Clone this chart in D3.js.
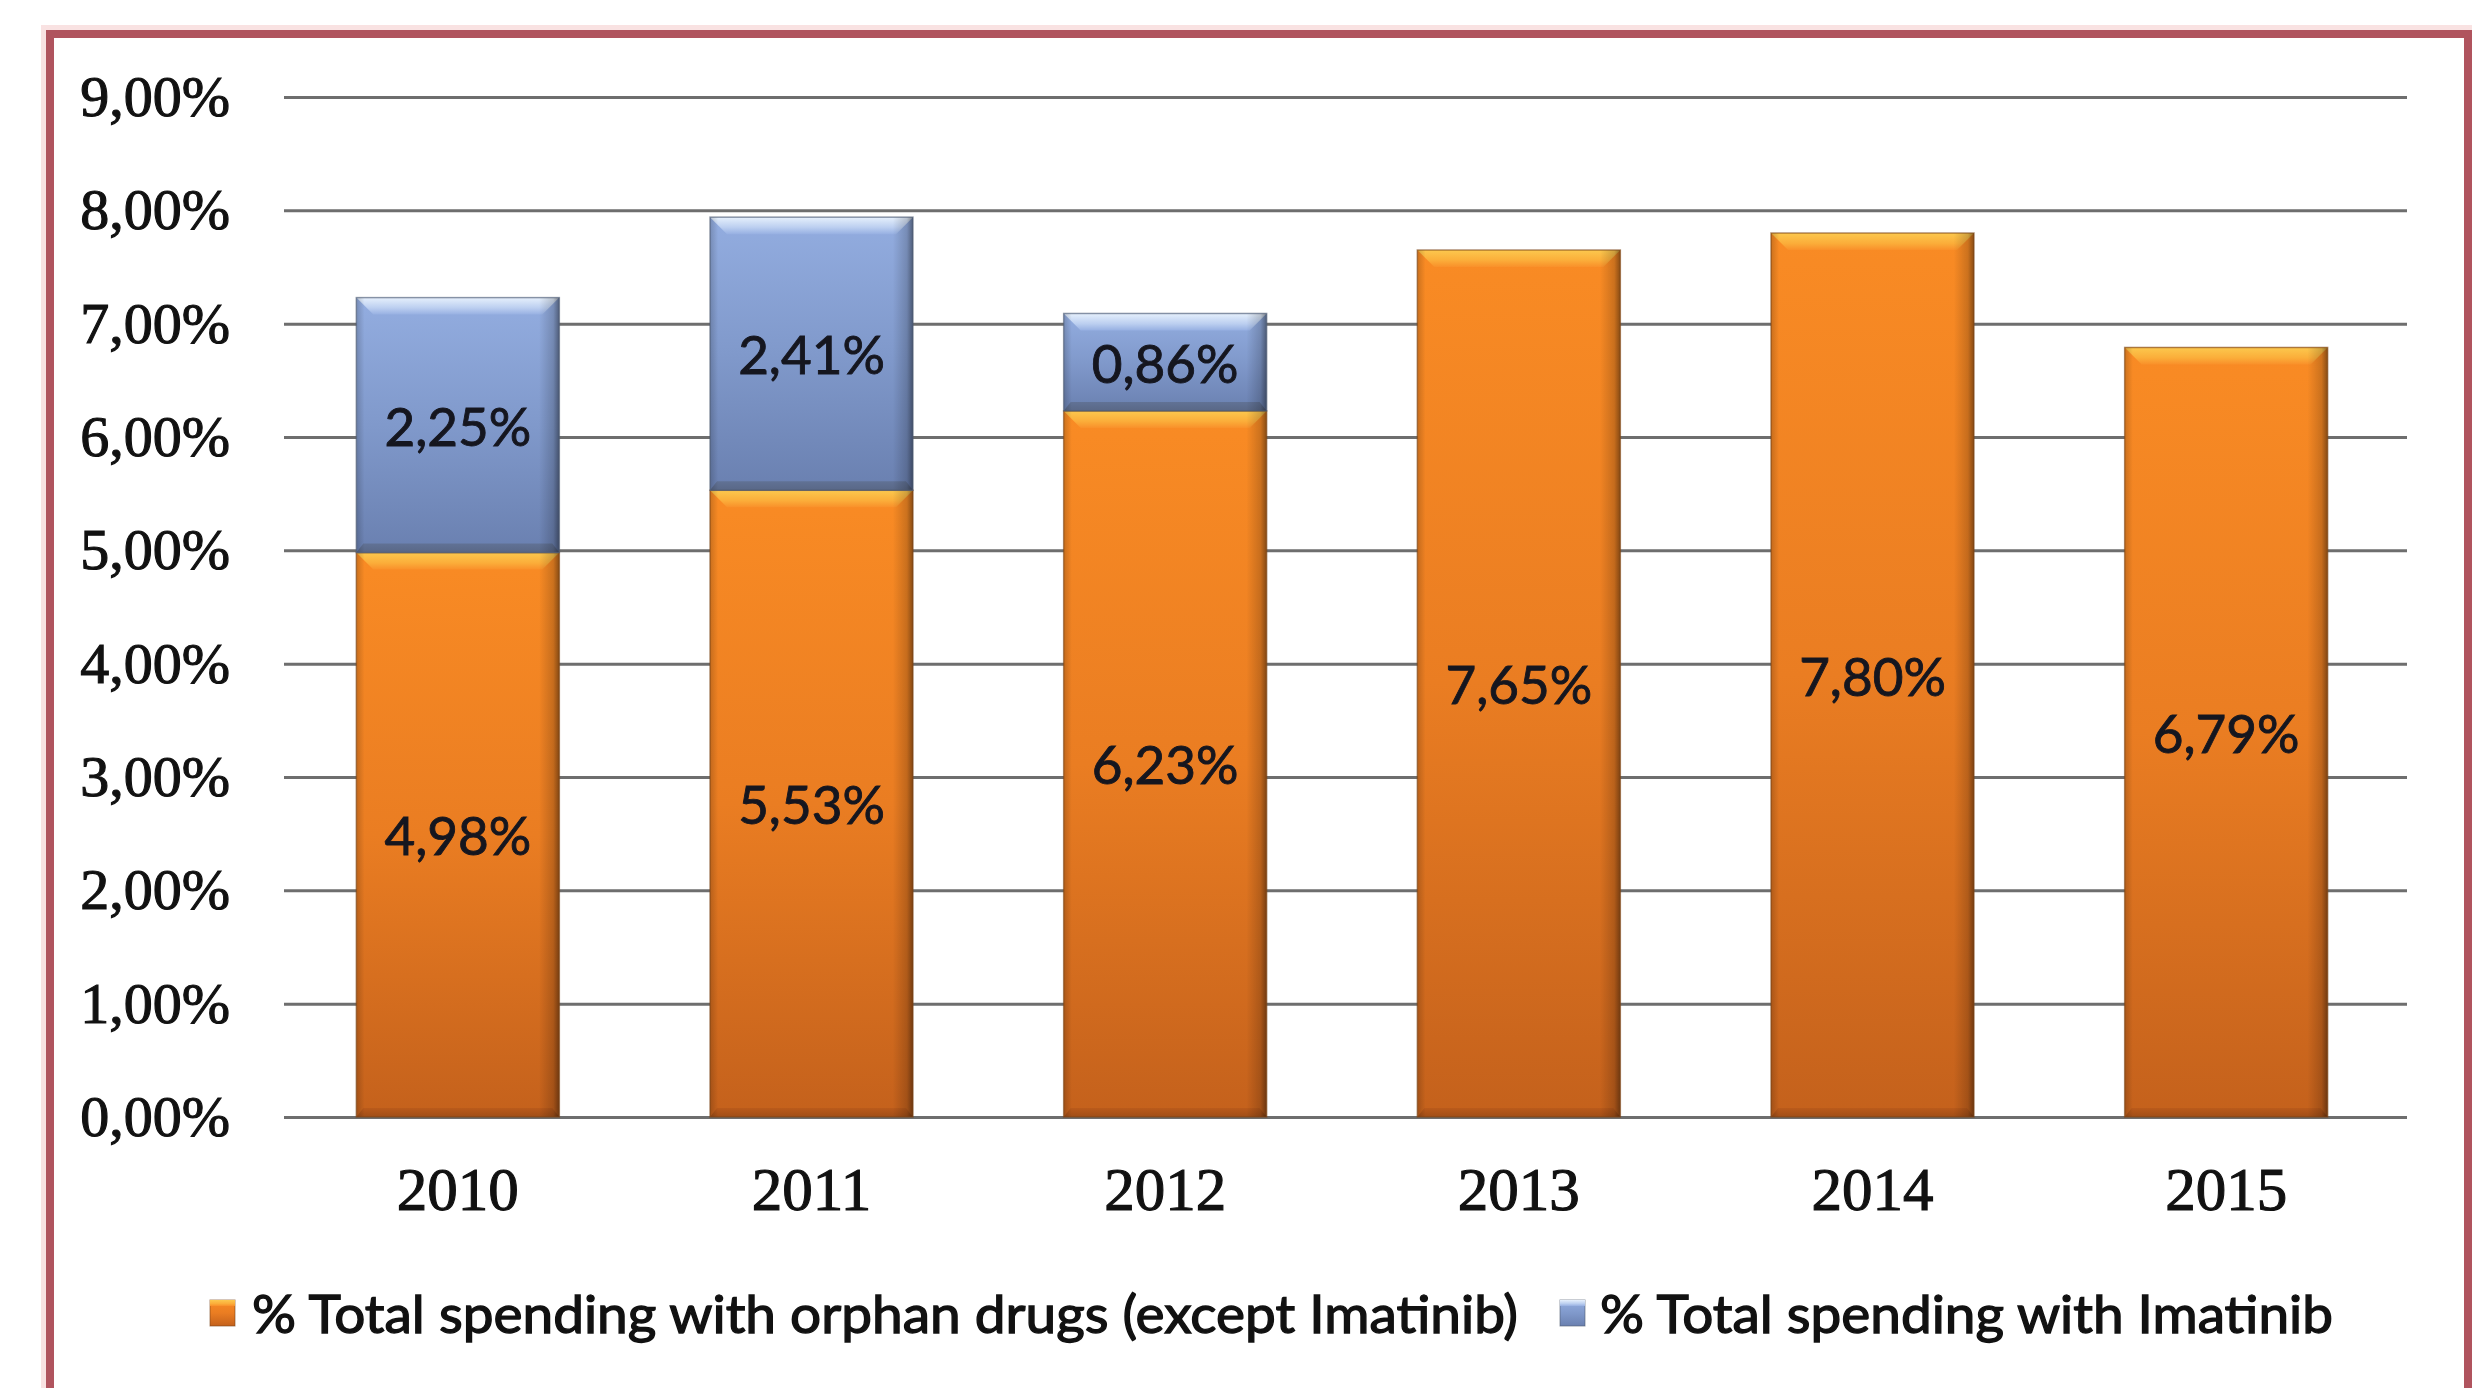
<!DOCTYPE html>
<html>
<head>
<meta charset="utf-8">
<script src="https://cdn.jsdelivr.net/npm/d3@7"></script>
<style>
  html, body { margin: 0; padding: 0; background: #ffffff; }
  svg { display: block; }
</style>
</head>
<body>
<svg id="chart" width="2472" height="1388"></svg>
<script>
// ---------- data ----------
const years = ["2010", "2011", "2012", "2013", "2014", "2015"];
const orphanExceptImatinib = [4.98, 5.53, 6.23, 7.65, 7.80, 6.79];
const imatinib = [2.25, 2.41, 0.86, 0, 0, 0];
const yTicks = [0, 1, 2, 3, 4, 5, 6, 7, 8, 9];
const seriesNames = ["% Total spending with orphan drugs (except Imatinib)", "% Total spending with Imatinib"];

// ---------- setup ----------
const W = 2472, H = 1388;
const svg = d3.select("#chart");
const fmt = v => d3.format(".2f")(v).replace(".", ",") + "%";

// frame
svg.append("rect").attr("x", 50).attr("y", 34).attr("width", 2418).attr("height", 1500)
  .attr("fill", "none").attr("stroke", "#f6d6d6").attr("stroke-width", 18).attr("opacity", 0.7);
svg.append("rect").attr("x", 50).attr("y", 34).attr("width", 2418).attr("height", 1500)
  .attr("fill", "#ffffff").attr("stroke", "#b0545e").attr("stroke-width", 8);

const gridX0 = 284, gridX1 = 2407;
const y = d3.scaleLinear().domain([0, 9]).range([1117, 97]);
const x = d3.scaleBand().domain(years).range([281, 2403]).paddingInner(0.426).paddingOuter(0.213);

// gradients
const defs = svg.append("defs");
function vGrad(id, stops) {
  const g = defs.append("linearGradient").attr("id", id).attr("x1", 0).attr("y1", 0).attr("x2", 0).attr("y2", 1);
  stops.forEach(s => g.append("stop").attr("offset", s[0]).attr("stop-color", s[1]));
}
function hGrad(id, stops) {
  const g = defs.append("linearGradient").attr("id", id).attr("x1", 0).attr("y1", 0).attr("x2", 1).attr("y2", 0);
  stops.forEach(s => g.append("stop").attr("offset", s[0]).attr("stop-color", s[1][0]).attr("stop-opacity", s[1][1]));
}
vGrad("orangeBody", [[0, "#f98b24"], [0.5, "#ea7d22"], [1, "#c4611c"]]);
vGrad("blueBody", [[0, "#93ade0"], [0.5, "#8099cb"], [1, "#6a80b0"]]);
vGrad("orangeBevel", [[0, "#fcc84e"], [0.6, "#fbae3a"], [1, "#f9902a"]]);
vGrad("blueBevel", [[0, "#e6f0fc"], [0.6, "#bccff0"], [1, "#97b0e2"]]);
hGrad("sideShade", [[0, ["#000", 0.18]], [0.04, ["#000", 0.0]], [0.9, ["#000", 0.0]], [0.97, ["#000", 0.18]], [1, ["#000", 0.45]]]);
vGrad("orangeBottom", [[0, "#b8591a"], [1, "#9a4a16"]]);
vGrad("blueBottom", [[0, "#5f6f90"], [1, "#56637f"]]);

const thick = sel => sel.attr("stroke", "#111").attr("stroke-width", 1.1).attr("paint-order", "stroke");

// y axis with gridlines
const yAxis = d3.axisLeft(y).tickValues(yTicks).tickFormat(v => fmt(v))
  .tickSizeInner(-(gridX1 - gridX0)).tickSizeOuter(0).tickPadding(54);
const gy = svg.append("g").attr("transform", `translate(${gridX0},0)`).call(yAxis);
gy.select(".domain").remove();
gy.selectAll(".tick line").attr("stroke", "#6e6e6e").attr("stroke-width", 3);
gy.selectAll(".tick text").attr("font-family", "'Liberation Serif', serif").attr("font-size", 58)
  .attr("fill", "#111").call(thick);

// x axis
const xAxis = d3.axisBottom(x).tickSize(0).tickPadding(50);
const gx = svg.append("g").attr("transform", `translate(0,${y(0)})`).call(xAxis);
gx.select(".domain").remove();
gx.selectAll(".tick text").attr("font-family", "'Liberation Serif', serif").attr("font-size", 61)
  .attr("fill", "#111").call(thick);

// bars
const stacked = years.map((yr, i) => ({
  year: yr,
  segs: [
    { key: "orange", v0: 0, v1: orphanExceptImatinib[i], val: orphanExceptImatinib[i] },
    { key: "blue", v0: orphanExceptImatinib[i], v1: orphanExceptImatinib[i] + imatinib[i], val: imatinib[i] }
  ].filter(s => s.val > 0)
}));

const bw = x.bandwidth();
const bev = 17;
stacked.forEach(d => {
  const g = svg.append("g");
  d.segs.forEach(s => {
    const x0 = x(d.year), yt = y(s.v1), yb = y(s.v0), h = yb - yt;
    g.append("rect").attr("x", x0).attr("y", yt).attr("width", bw).attr("height", h)
      .attr("fill", `url(#${s.key}Body)`);
    // bottom dark band
    g.append("polygon")
      .attr("points", `${x0},${yb} ${x0 + bw},${yb} ${x0 + bw - 7},${yb - 9} ${x0 + 7},${yb - 9}`)
      .attr("fill", `url(#${s.key}Bottom)`).attr("opacity", 0.85);
    // top bevel
    g.append("polygon")
      .attr("points", `${x0},${yt} ${x0 + bw},${yt} ${x0 + bw - bev},${yt + bev} ${x0 + bev},${yt + bev}`)
      .attr("fill", `url(#${s.key}Bevel)`);
    // side shading
    g.append("rect").attr("x", x0).attr("y", yt).attr("width", bw).attr("height", h)
      .attr("fill", "url(#sideShade)");
    g.append("rect").attr("x", x0).attr("y", yt).attr("width", bw).attr("height", h)
      .attr("fill", "none").attr("stroke", s.key === "blue" ? "#4d5a70" : "#7a4418")
      .attr("stroke-opacity", 0.6).attr("stroke-width", 1.5);
    g.append("text").attr("x", x0 + bw / 2).attr("y", (yt + yb) / 2)
      .attr("text-anchor", "middle").attr("dominant-baseline", "central")
      .attr("font-family", "Lato, sans-serif").attr("font-size", 53).attr("fill", "#15161f")
      .call(thick).attr("stroke", "#15161f").attr("stroke-width", 0.9)
      .text(fmt(s.val));
  });
});

// legend
const legendItems = [
  { name: seriesNames[0], key: "orange", mx: 210, tx: 252, tw: 1266 },
  { name: seriesNames[1], key: "blue", mx: 1560, tx: 1600, tw: 733 }
];
const ly = 1313;
legendItems.forEach(it => {
  svg.append("rect").attr("x", it.mx).attr("y", ly - 13).attr("width", 25).attr("height", 26)
    .attr("fill", `url(#${it.key}Body)`).attr("stroke", it.key === "blue" ? "#4d5a70" : "#7a4418")
    .attr("stroke-opacity", 0.6);
  svg.append("rect").attr("x", it.mx).attr("y", ly - 13).attr("width", 25).attr("height", 6)
    .attr("fill", `url(#${it.key}Bevel)`);
  svg.append("text").attr("x", it.tx).attr("y", ly).attr("dominant-baseline", "central")
    .attr("font-family", "Lato, sans-serif").attr("font-size", 52).attr("fill", "#111")
    .call(thick).attr("stroke-width", 1.3)
    .attr("textLength", it.tw).attr("lengthAdjust", "spacingAndGlyphs")
    .text(it.name);
});
</script>
</body>
</html>
